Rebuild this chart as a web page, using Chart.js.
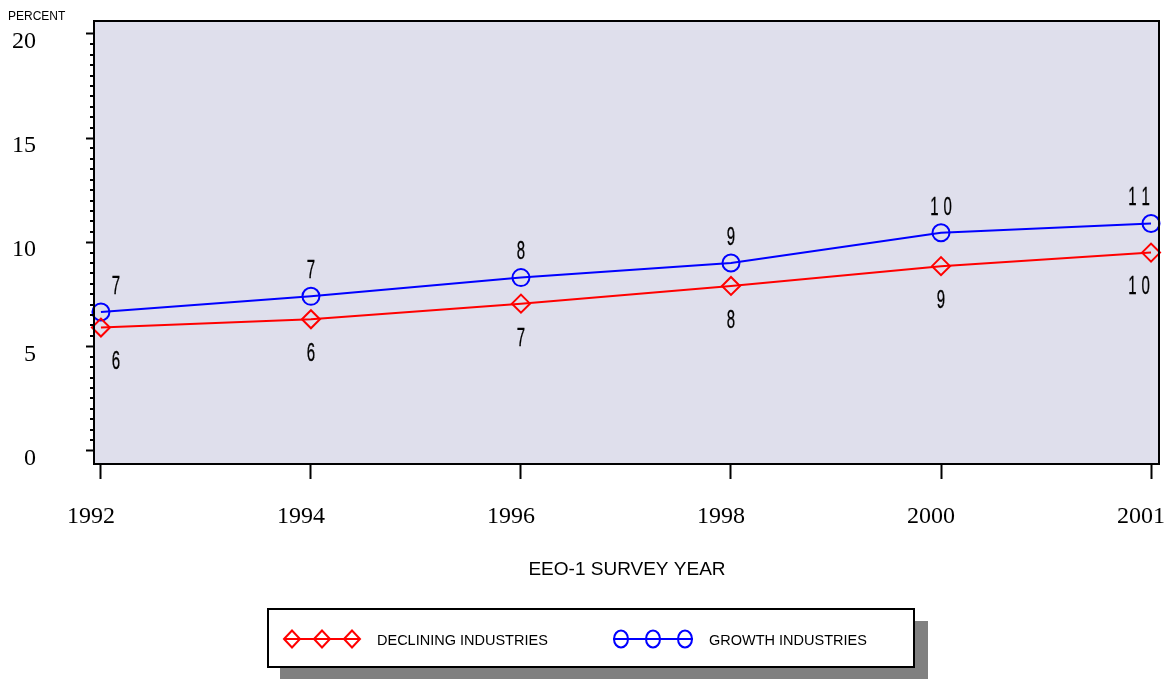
<!DOCTYPE html>
<html><head><meta charset="utf-8">
<script src="https://cdn.jsdelivr.net/npm/chart.js@4/dist/chart.umd.min.js"></script>
<style>html,body{margin:0;padding:0;background:#fff;}canvas{display:block;}</style>
</head><body>
<canvas id="c" width="1174" height="679" style="width:1174px;height:679px"></canvas>
<script>
const years = ['1992', '1994', '1996', '1998', '2000', '2001'];
const declining = [5.9, 6.3, 7.05, 7.9, 8.85, 9.5];
const growth = [6.65, 7.4, 8.3, 9.0, 10.45, 10.9];
const decliningLabels = ['6', '6', '7', '8', '9', '10'];
const growthLabels = ['7', '7', '8', '9', '10', '11'];
const yTicks = [0, 5, 10, 15, 20];
const seriesNames = ['DECLINING INDUSTRIES', 'GROWTH INDUSTRIES'];
const yAxisTitle = 'PERCENT';
const xAxisTitle = 'EEO-1 SURVEY YEAR';

const RED = '#ff0000', BLUE = '#0000ff';

const bgPlugin = {
  id: 'bg',
  beforeDraw(chart) {
    const a = chart.chartArea, ctx = chart.ctx;
    ctx.save();
    ctx.fillStyle = '#ffffff';
    ctx.fillRect(0, 0, chart.width, chart.height);
    ctx.fillStyle = '#dfdfec';
    ctx.fillRect(a.left, a.top, a.right - a.left, a.bottom - a.top);
    ctx.restore();
  }
};

const framePlugin = {
  id: 'frame',
  afterDraw(chart) {
    const a = chart.chartArea, ctx = chart.ctx, ys = chart.scales.y;
    ctx.save();
    ctx.strokeStyle = '#000';
    ctx.lineWidth = 2;
    ctx.strokeRect(a.left, a.top, a.right - a.left, a.bottom - a.top);
    // minor ticks
    ctx.beginPath();
    for (let v = 0.5; v < 20; v += 0.5) {
      if (Math.abs(v % 5) < 1e-6) continue;
      const py = Math.round(ys.getPixelForValue(v));
      ctx.moveTo(a.left - 4, py);
      ctx.lineTo(a.left, py);
    }
    ctx.stroke();
    // axis titles
    ctx.fillStyle = '#000';
    ctx.font = '12px "Liberation Sans", Arial, sans-serif';
    ctx.textAlign = 'left';
    ctx.textBaseline = 'alphabetic';
    ctx.fillText(yAxisTitle, 8, 20);
    ctx.font = '19px "Liberation Sans", Arial, sans-serif';
    ctx.textAlign = 'center';
    ctx.fillText(xAxisTitle, 627, 575);
    ctx.restore();
  }
};

function condensedText(ctx, txt, x, y) {
  ctx.save();
  ctx.translate(x, y);
  ctx.scale(0.6, 1);
  const chars = txt.split('');
  const gap = 8;
  const total = chars.reduce((s, c) => s + ctx.measureText(c).width, 0) + gap * (chars.length - 1);
  let cx = -total / 2;
  chars.forEach(c => {
    const w = ctx.measureText(c).width;
    ctx.fillText(c, cx + w / 2, 0);
    ctx.strokeText(c, cx + w / 2, 0);
    cx += w + gap;
  });
  ctx.restore();
}

const labelPlugin = {
  id: 'vlabels',
  afterDatasetsDraw(chart) {
    const ctx = chart.ctx;
    ctx.save();
    ctx.fillStyle = '#000';
    ctx.strokeStyle = '#000';
    ctx.lineWidth = 0.3;
    ctx.font = '25px "Liberation Sans", Arial, sans-serif';
    ctx.textAlign = 'center';
    ctx.textBaseline = 'middle';
    const sets = [[0, decliningLabels, 35], [1, growthLabels, -25]];
    sets.forEach(([di, labs, dy]) => {
      const meta = chart.getDatasetMeta(di);
      meta.data.forEach((el, i) => {
        let dx = 0;
        if (i === 0) dx = 15;
        if (i === labs.length - 1) dx = -12;
        condensedText(ctx, labs[i], el.x + dx, el.y + dy);
      });
    });
    ctx.restore();
  }
};

const legendPlugin = {
  id: 'customLegend',
  afterDraw(chart) {
    const ctx = chart.ctx;
    ctx.save();
    ctx.fillStyle = '#808080';
    ctx.fillRect(280, 621, 648, 58);
    ctx.fillStyle = '#ffffff';
    ctx.fillRect(268, 609, 646, 58);
    ctx.strokeStyle = '#000';
    ctx.lineWidth = 2;
    ctx.strokeRect(268, 609, 646, 58);
    const ly = 639;
    // red
    ctx.strokeStyle = RED; ctx.lineWidth = 2;
    ctx.beginPath(); ctx.moveTo(285, ly); ctx.lineTo(360, ly); ctx.stroke();
    [292, 322, 352].forEach(x => {
      ctx.beginPath();
      ctx.moveTo(x - 8, ly); ctx.lineTo(x, ly - 8.5); ctx.lineTo(x + 8, ly); ctx.lineTo(x, ly + 8.5); ctx.closePath();
      ctx.stroke();
    });
    // blue
    ctx.strokeStyle = BLUE;
    ctx.beginPath(); ctx.moveTo(613, ly); ctx.lineTo(693, ly); ctx.stroke();
    [621, 653, 685].forEach(x => {
      ctx.beginPath(); ctx.ellipse(x, ly, 7, 8.5, 0, 0, Math.PI * 2); ctx.stroke();
    });
    ctx.fillStyle = '#000';
    ctx.font = '14.5px "Liberation Sans", Arial, sans-serif';
    ctx.textAlign = 'left';
    ctx.textBaseline = 'middle';
    ctx.fillText(seriesNames[0], 377, ly + 2);
    ctx.fillText(seriesNames[1], 709, ly + 2);
    ctx.restore();
  }
};

new Chart(document.getElementById('c'), {
  type: 'line',
  data: {
    datasets: [
      {
        label: seriesNames[0],
        data: declining.map((v, i) => ({ x: i, y: v })),
        borderColor: RED, backgroundColor: 'rgba(0,0,0,0)',
        borderWidth: 2, tension: 0,
        pointStyle: 'rectRot', pointRadius: 9, pointHoverRadius: 9,
        pointBorderColor: RED, pointBackgroundColor: 'rgba(0,0,0,0)', pointBorderWidth: 2,
        clip: false
      },
      {
        label: seriesNames[1],
        data: growth.map((v, i) => ({ x: i, y: v })),
        borderColor: BLUE, backgroundColor: 'rgba(0,0,0,0)',
        borderWidth: 2, tension: 0,
        pointStyle: 'circle', pointRadius: 8.5, pointHoverRadius: 8.5,
        pointBorderColor: BLUE, pointBackgroundColor: 'rgba(0,0,0,0)', pointBorderWidth: 2,
        clip: false
      }
    ]
  },
  options: {
    responsive: false,
    devicePixelRatio: 1,
    animation: false,
    events: [],
    layout: { padding: { top: 21, right: 15, left: 0, bottom: 0 } },
    plugins: { legend: { display: false }, tooltip: { enabled: false } },
    scales: {
      x: {
        type: 'linear',
        min: -0.033, max: 5.038,
        afterBuildTicks(scale) { scale.ticks = years.map((y, i) => ({ value: i })); },
        afterFit(scale) { scale.height = 215; scale.paddingLeft = 0; scale.paddingRight = 0; },
        grid: { drawOnChartArea: false, drawTicks: true, tickLength: 15, tickWidth: 2, tickColor: '#000' },
        border: { display: true, color: '#000', width: 2 },
        ticks: {
          autoSkip: false, maxRotation: 0, minRotation: 0,
          padding: 23, labelOffset: -10,
          color: '#000',
          font: { family: '"Liberation Serif", "Times New Roman", serif', size: 24 },
          callback: (v) => years[v]
        }
      },
      y: {
        type: 'linear',
        min: -0.65, max: 20.62,
        afterBuildTicks(scale) { scale.ticks = yTicks.map(v => ({ value: v })); },
        afterFit(scale) { scale.width = 94; scale.paddingTop = 0; scale.paddingBottom = 0; },
        grid: { drawOnChartArea: false, drawTicks: true, tickLength: 8, tickWidth: 2, tickColor: '#000' },
        border: { display: true, color: '#000', width: 2 },
        ticks: {
          padding: 50, labelOffset: 8,
          color: '#000',
          font: { family: '"Liberation Serif", "Times New Roman", serif', size: 24 },
          callback: (v) => String(v)
        }
      }
    }
  },
  plugins: [bgPlugin, framePlugin, labelPlugin, legendPlugin]
});
</script>
</body></html>
